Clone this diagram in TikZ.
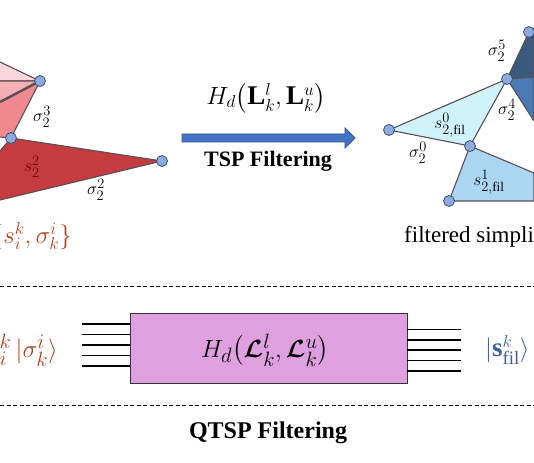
\documentclass[tikz,border=0pt]{standalone}
\usepackage{amsmath,bm}
\usepackage{fontspec}
\setmainfont{Liberation Serif}
\definecolor{edgegray}{HTML}{5A4E50}
\definecolor{vtxfill}{HTML}{8FAADC}
\definecolor{vtxdark}{HTML}{34507A}
\definecolor{pinkA}{HTML}{F9D6DA}
\definecolor{pinkB}{HTML}{F4B0B5}
\definecolor{pinkC}{HTML}{F08A90}
\definecolor{redD}{HTML}{C43C40}
\definecolor{cyanA}{HTML}{D0F3FB}
\definecolor{blueB}{HTML}{ABD6F2}
\definecolor{navyC}{HTML}{3C5A7E}
\definecolor{blueD}{HTML}{4A7AB6}
\definecolor{arrfill}{HTML}{4472C4}
\definecolor{arrline}{HTML}{2F528F}
\definecolor{plum}{HTML}{DFA0E0}
\definecolor{brown}{HTML}{B0401E}
\definecolor{ketblue}{HTML}{3C5F9F}
\begin{document}
\begin{tikzpicture}[x=1pt,y=-1pt,
  edge/.style={draw=edgegray, line width=1.1pt, line join=round},
  vtx/.style={circle, draw=vtxdark, fill=vtxfill, line width=0.8pt, minimum size=11pt, inner sep=0pt},
  lbl/.style={font=\fontsize{19}{21}\selectfont, inner sep=0pt},
  wire/.style={draw=black, line width=1.1pt},
  dashline/.style={draw=black, line width=0.7pt, dash pattern=on 4pt off 2.5pt},
  qbox/.style={draw=black!80, line width=0.9pt, fill=plum, minimum width=277pt, minimum height=70pt, inner sep=0pt}]
\useasboundingbox (0,0) rectangle (534,462);
\clip (0,0) rectangle (534,462);
% ---------- left complex ----------
\coordinate (v1) at (40,81);
\coordinate (v2) at (11,138);
\coordinate (v3) at (162,161);
\coordinate (a1) at (0,62);
\coordinate (a2) at (0,81);
\coordinate (a3) at (0,102);
\coordinate (a4) at (0,137);
\coordinate (a5) at (0,151);
\coordinate (a6) at (0,200);
\filldraw[edge, fill=pinkA] (a1) -- (v1) -- (a2);
\filldraw[edge, fill=pinkB] (a2) -- (v1) -- (a3);
\filldraw[edge, fill=pinkC] (a3) -- (v1) -- (v2) -- (a4);
\draw[edge, line width=2.4pt] (a3) -- (v1);
\filldraw[edge, fill=redD] (a5) -- (v2) -- (v3) -- (a6);
\node[vtx] (n1) at (v1) {};
\node[vtx] (n2) at (v2) {};
\node[vtx] (n3) at (v3) {};
\node[lbl] (l1) at (42,117) {$\sigma_2^3$};
\node[lbl, text=red!45!black] (l2) at (32,167) {$s_2^2$};
\node[lbl] (l3) at (96,190) {$\sigma_2^2$};
\node[text=brown, anchor=east, font=\fontsize{23}{25}\selectfont, inner sep=0pt] (set) at (72,236) {$\{s_i^k,\sigma_k^i\}$};
% ---------- arrow ----------
\node[font=\fontsize{27}{30}\selectfont, inner sep=0pt] (Hd) at (266,98) {$H_d\big(\mathbf{L}_k^l,\mathbf{L}_k^u\big)$};
\filldraw[draw=arrline, fill=arrfill, line width=0.8pt, line join=miter]
  (182,134) -- (345,134) -- (345,128) -- (355,138) -- (345,148) -- (345,142) -- (182,142) -- cycle;
\node[font=\fontsize{22}{24}\selectfont\bfseries] (tsp) at (268,161) {TSP Filtering};
% ---------- right complex ----------
\coordinate (w1) at (389,130);
\coordinate (w2) at (507,79);
\coordinate (w3) at (470,146);
\coordinate (w4) at (449,201);
\coordinate (w5) at (529,32);
\coordinate (b1) at (534,201);
\coordinate (b2) at (534,173);
\coordinate (b3) at (534,28);
\coordinate (b4) at (534,77);
\coordinate (b5) at (534,121);
\filldraw[edge, fill=navyC] (w5) -- (b3) -- (b4) -- (w2) -- cycle;
\filldraw[edge, fill=blueD] (w2) -- (b4) -- (b5) -- cycle;
\filldraw[edge, fill=cyanA] (w1) -- (w2) -- (w3) -- cycle;
\filldraw[edge, fill=blueB] (w3) -- (w4) -- (b1) -- (b2) -- cycle;
\foreach \v in {w1,w2,w3,w4,w5} \node[vtx] (m\v) at (\v) {};
\node[lbl] (r1) at (450,125) {$s_{2,\mathrm{fil}}^0$};
\node[lbl] (r2) at (418,153) {$\sigma_2^0$};
\node[lbl] (r3) at (489,182) {$s_{2,\mathrm{fil}}^1$};
\node[lbl] (r4) at (497,51) {$\sigma_2^5$};
\node[lbl] (r5) at (507,110) {$\sigma_2^4$};
\node[anchor=west, font=\fontsize{23}{25}\selectfont, inner sep=0pt] (fs) at (404,237) {filtered simplicial complex};
% ---------- bottom ----------
\coordinate (d1) at (0,286);
\coordinate (d2) at (534,286);
\coordinate (d3) at (0,405);
\coordinate (d4) at (534,405);
\draw[dashline] (d1) -- (d2);
\draw[dashline] (d3) -- (d4);
\node[qbox] (qb) at (268.5,348) {};
\node[font=\fontsize{28}{30}\selectfont, inner sep=0pt] (qH) at (265,350) {$H_d\big(\bm{\mathcal{L}}_k^l,\bm{\mathcal{L}}_k^u\big)$};
\foreach \y [count=\i] in {324,334.5,345,355.5,366} {
  \coordinate (in\i) at (82,\y);
  \draw[wire] (in\i) -- (in\i -| qb.west);
}
\foreach \y [count=\i] in {329.5,340,350,360.5,371} {
  \coordinate (out\i) at (461,\y);
  \draw[wire] (out\i -| qb.east) -- (out\i);
}
\node[anchor=east, text=brown, font=\fontsize{29}{32}\selectfont, inner sep=0pt] (kin) at (58,350) {$s_i^k\,|\sigma_k^i\rangle$};
\node[anchor=west, text=ketblue, font=\fontsize{27}{30}\selectfont, inner sep=0pt] (kout) at (485,350) {$|\mathbf{s}_{\mathrm{fil}}^k\rangle$};
\node[font=\fontsize{24}{26}\selectfont\bfseries] (qtsp) at (268,433) {QTSP Filtering};
\end{tikzpicture}
\end{document}
